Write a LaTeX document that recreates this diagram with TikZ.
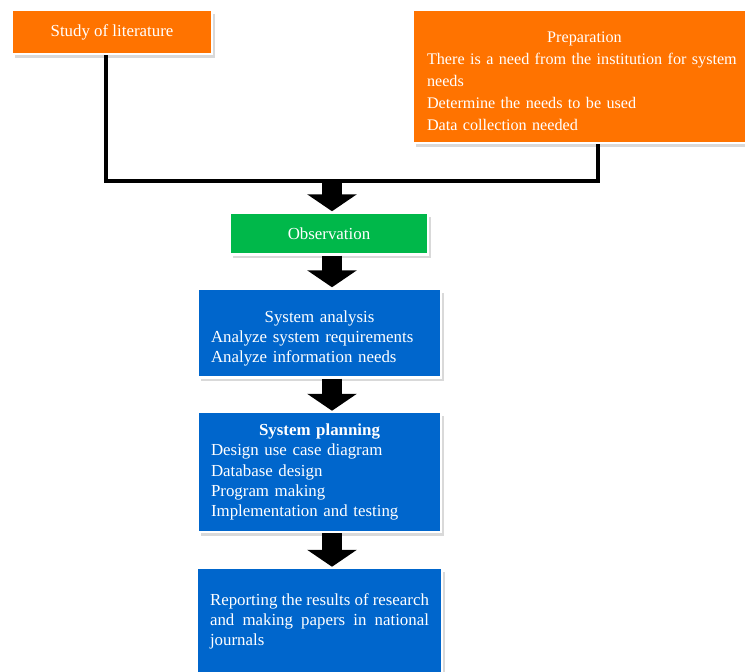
\documentclass[tikz,border=0pt]{standalone}
\usepackage{fontspec}
\setmainfont{Liberation Serif}
\usetikzlibrary{positioning}
\usetikzlibrary{shadows}
\usetikzlibrary{arrows.meta}

\definecolor{boxorange}{RGB}{255,115,0}
\definecolor{boxgreen}{RGB}{0,184,74}
\definecolor{boxblue}{RGB}{0,102,204}

\tikzset{
	box/.style={draw=white, line width=0.05cm, text=white, inner xsep=0.26cm, drop shadow={shadow xshift=0.06cm, shadow yshift=-0.08cm, opacity=0.3}, font=\fontsize{9.6}{11.4}\selectfont},
	bigarrow/.style={line width=0.42cm, -{Triangle[width=0.98cm,length=0.34cm]}},
	link/.style={line width=0.08cm}
}

\begin{document}
\begin{tikzpicture}[x=0.02cm,y=-0.02cm]
	\useasboundingbox (0,0) rectangle (745,672);
	% Top Boxes %
	\node [box, fill=boxorange, minimum width=4cm, minimum height=0.88cm] (study) at (112,32) {Study of literature};
	\node [box, fill=boxorange, text width=6.5cm, inner xsep=0.28cm, minimum height=2.66cm, align=left, font=\fontsize{9.2}{12.5}\selectfont] (prep) at (589.5,76.5) {{\centering\hspace*{-0.2cm}\rule{0pt}{0.42cm}Preparation\par}\mbox{There is a need from the institution for system}\\needs\\Determine the needs to be used\\Data collection needed};
	% Middle Boxes %
	\node [box, fill=boxgreen, minimum width=3.96cm, minimum height=0.84cm] (obs) at (329,233.5) {Observation};
	\node [box, fill=boxblue, text width=4.34cm, minimum height=1.78cm, align=left] (ana) at (319.5,333) {{\centering\rule{0pt}{0.45cm}System analysis\par}Analyze system requirements\\Analyze information needs};
	\node [box, fill=boxblue, text width=4.34cm, minimum height=2.4cm, align=left] (plan) at (319.5,472) {{\centering\bfseries System planning\par}Design use case diagram\\Database design\\Program making\\Implementation and testing};
	\node [box, fill=boxblue, text width=4.38cm, inner xsep=0.26cm, minimum height=2.12cm, align=justify] (rep) at (319.5,621) {Reporting the results of research\linebreak and making papers in national\linebreak journals};
	% Lines and Arrows %
	\coordinate (joinL) at (106,181);
	\coordinate (joinR) at (598,181);
	\coordinate (join) at (332,181);
	\coordinate (axis) at (332,0);
	\draw [link] (study.south -| joinL) -- (joinL) -- (joinR) -- (prep.south -| joinR);
	\draw [bigarrow] (join) -- (obs.north -| axis);
	\draw [bigarrow] (obs.south -| axis) -- (ana.north -| axis);
	\draw [bigarrow] (ana.south -| axis) -- (plan.north -| axis);
	\draw [bigarrow] (plan.south -| axis) -- (rep.north -| axis);
\end{tikzpicture}
\end{document}
